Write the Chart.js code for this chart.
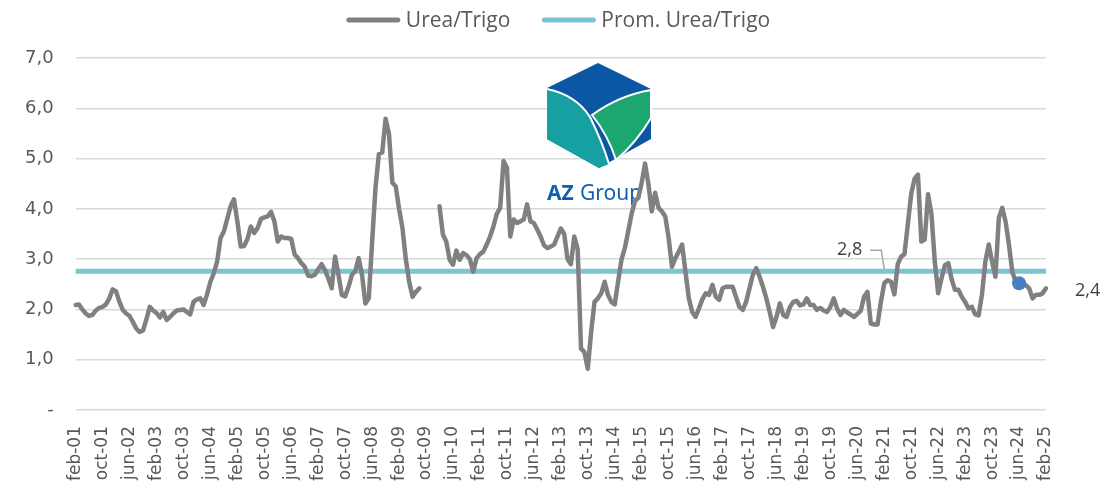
<!DOCTYPE html>
<html lang="es">
<head>
  <meta charset="UTF-8">
  <title>Urea/Trigo</title>
  <script src="https://cdn.jsdelivr.net/npm/chart.js"></script>
  <style>
    body {
      margin: 0;
      background: #fff;
    }
    .chart-container {
      position: relative;
      width: 1104px;
      height: 489px;
    }
  </style>
</head>
<body>
  <div class="chart-container">
    <canvas id="ratioChart"></canvas>
  </div>

  <script>
    // monthly series, feb-01 .. feb-25
    const monthNames = ['ene', 'feb', 'mar', 'abr', 'may', 'jun', 'jul', 'ago', 'sep', 'oct', 'nov', 'dic'];
    const startYear = 2001;
    const startMonth = 1; // feb
    const tickEvery = 8;

    const ureaTrigo = [
      // 2001 feb..dic
      2.09, 2.10, 2.00, 1.92, 1.87, 1.89, 1.98, 2.03, 2.05, 2.10, 2.22,
      // 2002
      2.40, 2.36, 2.15, 1.99, 1.92, 1.87, 1.75, 1.62, 1.55, 1.58, 1.80, 2.05,
      // 2003
      1.98, 1.93, 1.84, 1.95, 1.79, 1.85, 1.92, 1.98, 1.99, 2.00, 1.95, 1.90,
      // 2004
      2.15, 2.20, 2.22, 2.09, 2.30, 2.55, 2.72, 2.95, 3.42, 3.55, 3.80, 4.05,
      // 2005
      4.19, 3.75, 3.25, 3.26, 3.40, 3.65, 3.52, 3.62, 3.80, 3.83, 3.85, 3.94,
      // 2006
      3.75, 3.35, 3.45, 3.42, 3.42, 3.40, 3.09, 3.02, 2.92, 2.85, 2.67, 2.66,
      // 2007
      2.69, 2.80, 2.90, 2.78, 2.62, 2.42, 3.05, 2.69, 2.29, 2.26, 2.45, 2.69,
      // 2008
      2.76, 3.02, 2.69, 2.12, 2.22, 3.35, 4.42, 5.09, 5.12, 5.79, 5.49, 4.52,
      // 2009
      4.45, 4.00, 3.62, 3.00, 2.55, 2.25, 2.35, 2.42, null, null, null, null,
      // 2010
      null, 4.05, 3.49, 3.35, 2.99, 2.89, 3.17, 2.99, 3.12, 3.08, 3.00, 2.75,
      // 2011
      3.02, 3.10, 3.15, 3.29, 3.45, 3.65, 3.90, 4.02, 4.95, 4.82, 3.45, 3.79,
      // 2012
      3.72, 3.75, 3.79, 4.09, 3.75, 3.72, 3.59, 3.45, 3.28, 3.22, 3.25, 3.29,
      // 2013
      3.45, 3.61, 3.50, 3.00, 2.90, 3.45, 3.20, 1.22, 1.15, 0.82, 1.55, 2.15,
      // 2014
      2.22, 2.32, 2.55, 2.29, 2.15, 2.10, 2.55, 2.99, 3.22, 3.55, 3.90, 4.15,
      // 2015
      4.22, 4.52, 4.90, 4.49, 3.95, 4.32, 4.02, 3.95, 3.85, 3.42, 2.85, 3.02,
      // 2016
      3.15, 3.29, 2.75, 2.22, 1.95, 1.85, 2.02, 2.20, 2.32, 2.29, 2.49, 2.25,
      // 2017
      2.19, 2.42, 2.45, 2.45, 2.45, 2.25, 2.05, 1.99, 2.15, 2.42, 2.69, 2.82,
      // 2018
      2.65, 2.45, 2.22, 1.95, 1.65, 1.85, 2.12, 1.89, 1.85, 2.05, 2.15, 2.17,
      // 2019
      2.08, 2.10, 2.22, 2.09, 2.09, 1.99, 2.03, 1.98, 1.95, 2.05, 2.22, 2.02,
      // 2020
      1.89, 1.99, 1.94, 1.90, 1.85, 1.91, 1.97, 2.25, 2.35, 1.72, 1.70, 1.70,
      // 2021
      2.15, 2.52, 2.58, 2.55, 2.30, 2.90, 3.05, 3.10, 3.70, 4.30, 4.60, 4.68,
      // 2022
      3.35, 3.39, 4.29, 3.90, 2.95, 2.32, 2.62, 2.88, 2.92, 2.60, 2.39, 2.39,
      // 2023
      2.25, 2.15, 2.02, 2.05, 1.90, 1.88, 2.30, 2.95, 3.29, 2.95, 2.65, 3.82,
      // 2024
      4.02, 3.75, 3.29, 2.75, 2.55, 2.52, 2.52, 2.48, 2.42, 2.22, 2.29, 2.29,
      // 2025 ene, feb
      2.32, 2.42
    ];

    const avgValue = 2.76;
    const highlightIndex = 280; // jun-24
    const avgLabelIndex = 240;
    const yTicks = [0, 1, 2, 3, 4, 5, 6, 7];

    const labels = [];
    for (let i = 0; i < ureaTrigo.length; i++) {
      const m = (startMonth + i) % 12;
      const y = startYear + Math.floor((startMonth + i) / 12);
      labels.push(monthNames[m] + '-' + String(y % 100).padStart(2, '0'));
    }

    const fmt = v => v.toFixed(1).replace('.', ',');

    // legend drawn by hand so the item gap and the top offset can be set freely
    const legendPlugin = {
      id: 'topLegend',
      afterDraw(chart) {
        const ctx = chart.ctx;
        const lineLen = 55, textGap = 5, itemGap = 31, y = 20;
        ctx.save();
        ctx.font = '21px "Open Sans"';
        ctx.textBaseline = 'middle';
        const items = chart.data.datasets.map(ds => ({
          text: ds.label,
          color: ds.borderColor,
          w: lineLen + textGap + ctx.measureText(ds.label).width
        }));
        const total = items.reduce((s, it) => s + it.w, 0) + itemGap * (items.length - 1);
        let x = chart.width / 2 + 6 - total / 2;
        items.forEach(it => {
          ctx.strokeStyle = it.color;
          ctx.lineWidth = 5;
          ctx.lineCap = 'round';
          ctx.beginPath();
          ctx.moveTo(x + 3, y);
          ctx.lineTo(x + lineLen - 3, y);
          ctx.stroke();
          ctx.fillStyle = '#595959';
          ctx.textAlign = 'left';
          ctx.fillText(it.text, x + lineLen + textGap, y + 1);
          x += it.w + itemGap;
        });
        ctx.restore();
      }
    };

    // logo + value labels
    const decorPlugin = {
      id: 'decor',
      beforeDatasetsDraw(chart) {
        const ctx = chart.ctx;
        ctx.save();
        ctx.translate(598, 63);
        ctx.beginPath();
        ctx.moveTo(0, 0);
        ctx.lineTo(53, 26);
        ctx.lineTo(53, 76);
        ctx.lineTo(1, 105);
        ctx.lineTo(-51, 76);
        ctx.lineTo(-51, 25);
        ctx.closePath();
        ctx.fillStyle = '#0b57a4';
        ctx.fill();
        // teal
        ctx.beginPath();
        ctx.moveTo(-51, 26);
        ctx.quadraticCurveTo(-22, 32, -8, 54);
        ctx.quadraticCurveTo(4, 78, 11, 101);
        ctx.lineTo(1, 105);
        ctx.lineTo(-51, 76);
        ctx.closePath();
        ctx.fillStyle = '#16a0a2';
        ctx.fill();
        // green
        ctx.beginPath();
        ctx.moveTo(-6, 52);
        ctx.quadraticCurveTo(22, 32, 53, 27);
        ctx.lineTo(53, 55);
        ctx.quadraticCurveTo(38, 80, 18, 97);
        ctx.quadraticCurveTo(10, 72, -6, 52);
        ctx.closePath();
        ctx.fillStyle = '#1ca670';
        ctx.fill();
        ctx.strokeStyle = '#fff';
        ctx.lineWidth = 2;
        ctx.stroke();
        ctx.beginPath();
        ctx.moveTo(-51, 26);
        ctx.quadraticCurveTo(-22, 32, -8, 54);
        ctx.quadraticCurveTo(4, 78, 11, 101);
        ctx.stroke();
        ctx.restore();

        ctx.save();
        ctx.fillStyle = '#1060ad';
        ctx.textBaseline = 'alphabetic';
        ctx.font = 'bold 21px "Noto Sans"';
        ctx.fillText('AZ', 547, 200);
        ctx.font = '21px "Noto Sans"';
        ctx.fillText('Group', 580, 200);
        ctx.restore();
      },
      afterDatasetsDraw(chart) {
        const ctx = chart.ctx;
        const x = chart.scales.x;
        const y = chart.scales.y;
        ctx.save();
        ctx.font = '18px "Open Sans"';
        ctx.fillStyle = '#404040';
        ctx.textBaseline = 'middle';

        // average label with leader line
        const ax = x.getPixelForValue(avgLabelIndex);
        const ay = y.getPixelForValue(avgValue);
        ctx.strokeStyle = '#a6a6a6';
        ctx.lineWidth = 1.5;
        ctx.beginPath();
        ctx.moveTo(ax - 14, ay - 21);
        ctx.lineTo(ax - 3, ay - 21);
        ctx.lineTo(ax, ay - 2);
        ctx.stroke();
        ctx.textAlign = 'right';
        ctx.fillText(fmt(avgValue), ax - 22, ay - 21);

        // last value
        const last = ureaTrigo.length - 1;
        const lx = x.getPixelForValue(last);
        const ly = y.getPixelForValue(ureaTrigo[last]);
        ctx.textAlign = 'left';
        ctx.fillText(fmt(ureaTrigo[last]), lx + 29, ly + 3);
        ctx.restore();
      }
    };

    const ctx = document.getElementById('ratioChart').getContext('2d');
    new Chart(ctx, {
      type: 'line',
      data: {
        labels: labels,
        datasets: [
          {
            label: 'Urea/Trigo',
            data: ureaTrigo,
            borderColor: '#808080',
            backgroundColor: '#808080',
            borderWidth: 4.5,
            borderCapStyle: 'round',
            borderJoinStyle: 'round',
            tension: 0,
            spanGaps: false,
            pointRadius: c => c.dataIndex === highlightIndex ? 7 : 0,
            pointBackgroundColor: '#4a7ebf',
            pointBorderWidth: 0,
            order: 1
          },
          {
            label: 'Prom. Urea/Trigo',
            data: new Array(ureaTrigo.length).fill(avgValue),
            borderColor: '#7bc5d3',
            backgroundColor: '#7bc5d3',
            borderWidth: 5,
            pointRadius: 0,
            order: 2
          }
        ]
      },
      options: {
        responsive: true,
        maintainAspectRatio: false,
        animation: false,
        layout: {
          padding: { left: 3, right: 58, top: 58, bottom: 0 }
        },
        scales: {
          x: {
            grid: { display: false },
            border: { display: false },
            ticks: {
              autoSkip: false,
              minRotation: 90,
              maxRotation: 90,
              padding: 8,
              color: '#595959',
              font: { family: 'DejaVu Sans', size: 17 },
              callback: function (value, index) {
                return index % tickEvery === 0 ? this.getLabelForValue(value) : null;
              }
            }
          },
          y: {
            min: 0,
            max: 7,
            afterBuildTicks: axis => { axis.ticks = yTicks.map(v => ({ value: v })); },
            grid: { color: '#d9d9d9', lineWidth: 1.5, drawTicks: false },
            border: { display: false },
            ticks: {
              padding: 22,
              color: '#595959',
              font: { family: 'DejaVu Sans', size: 18 },
              callback: v => v === 0 ? '-' : fmt(v)
            }
          }
        },
        plugins: {
          legend: { display: false },
          tooltip: { enabled: false }
        }
      },
      plugins: [decorPlugin, legendPlugin]
    });
  </script>
</body>
</html>
